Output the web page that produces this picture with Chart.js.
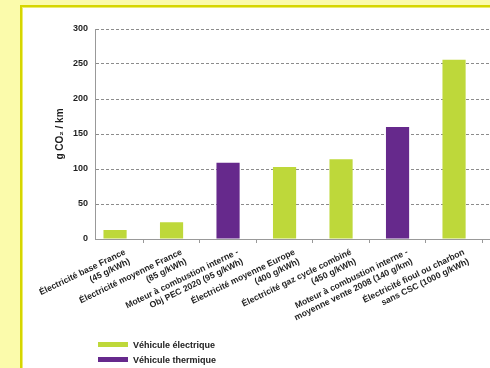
<!DOCTYPE html>
<html>
<head>
<meta charset="utf-8">
<script src="https://cdn.jsdelivr.net/npm/chart.js@4"></script>
<style>
  html, body { margin: 0; padding: 0; }
  body { width: 490px; height: 368px; background: #fbfbab; position: relative; overflow: hidden; }
  #cadre {
    position: absolute; left: 20px; top: 5px; width: 480px; height: 380px;
    background: #ffffff; border-left: 2px solid #d6d600; border-top: 2px solid #d6d600;
    box-shadow: inset 1px 1px 0 #ecec70;
  }
  #zone { position: absolute; left: 0; top: 0; width: 490px; height: 368px; }
  #legende {
    position: absolute; left: 98px; top: 337px;
    font: bold 9px "Liberation Sans", Arial, sans-serif; color: #222;
  }
  .item { display: flex; align-items: center; height: 15px; }
  .boite { width: 30px; height: 5px; margin-right: 5px; }
</style>
</head>
<body>
<div id="cadre"></div>
<div id="zone"><canvas id="grafico" width="490" height="368"></canvas></div>
<div id="legende"></div>
<script>
const categories = [
  ["Électricité base France", "(45 g/kWh)"],
  ["Électricité moyenne France", "(85 g/kWh)"],
  ["Moteur à combustion interne -", "Obj PEC 2020 (95 g/kWh)"],
  ["Électricité moyenne Europe", "(400 g/kWh)"],
  ["Électricité gaz cycle combiné", "(450 g/kWh)"],
  ["Moteur à combustion interne -", "moyenne vente 2008 (140 g/km)"],
  ["Électricité fioul ou charbon", "sans CSC (1000 g/kWh)"],
];
const emissions = [13, 24, 109, 103, 114, 160, 256];
const types = ["elec", "elec", "therm", "elec", "elec", "therm", "elec"];
const yTicks = [0, 50, 100, 150, 200, 250, 300];

const couleurs = { elec: "#bed83a", therm: "#66298c" };
const noms = { elec: "Véhicule électrique", therm: "Véhicule thermique" };

const police = "'Liberation Sans', Arial, sans-serif";

// les catégories commencent un peu avant l'axe vertical
const decalageCategories = {
  id: "decalageCategories",
  afterLayout: (chart) => {
    const x = chart.scales.x;
    const debut = chart.chartArea.left - 8.2;
    const fin = debut + 395.5;
    x.left = debut;
    x.right = fin;
    x.width = fin - debut;
    x.configure();
  },
};

const ctx = document.getElementById("grafico").getContext("2d");
const myChart = new Chart(ctx, {
  type: "bar",
  data: {
    labels: categories,
    datasets: [
      {
        data: emissions,
        backgroundColor: types.map((t) => couleurs[t]),
        borderWidth: 0,
        barPercentage: 0.41,
        categoryPercentage: 1,
      },
    ],
  },
  options: {
    responsive: false,
    animation: false,
    layout: { padding: { top: 29, right: 0, bottom: 0, left: 0 } },
    plugins: { legend: { display: false }, tooltip: { enabled: false } },
    scales: {
      x: {
        grid: {
          drawOnChartArea: false,
          drawTicks: true,
          tickLength: 4,
          color: (c) => (c.index === 0 ? "rgba(0,0,0,0)" : "#999999"),
          offset: true,
        },
        border: { display: false },
        ticks: {
          minRotation: 26,
          maxRotation: 26,
          autoSkip: false,
          padding: 4,
          labelOffset: 10,
          color: "#1e1e1e",
          font: { family: police, size: 8.7, weight: "bold", lineHeight: 1.2 },
        },
        afterFit: (scale) => {
          scale.height = 129;
        },
      },
      y: {
        min: 0,
        max: 300,
        afterBuildTicks: (scale) => {
          scale.ticks = yTicks.map((v) => ({ value: v }));
        },
        grid: {
          color: (c) => (c.tick && c.tick.value === 0 ? "#999999" : "#8c8c8c"),
          drawTicks: false,
          lineWidth: 1,
        },
        border: {
          color: "#999999",
          width: 1,
          dash: (c) => (c.tick && c.tick.value === 0 ? [] : [3, 2]),
        },
        ticks: {
          padding: 7,
          color: "#1e1e1e",
          font: { family: police, size: 9, weight: "bold" },
        },
        title: {
          display: true,
          text: "g CO₂ / km",
          color: "#1e1e1e",
          padding: { top: 54, bottom: 0 },
          font: { family: police, size: 10, weight: "bold" },
        },
        afterFit: (scale) => {
          scale.width = 95;
        },
      },
    },
  },
  plugins: [decalageCategories],
});

const legende = document.getElementById("legende");
for (const t of ["elec", "therm"]) {
  const item = document.createElement("div");
  item.className = "item";
  item.innerHTML = `<span class="boite" style="background:${couleurs[t]}"></span>${noms[t]}`;
  legende.appendChild(item);
}
</script>
</body>
</html>
